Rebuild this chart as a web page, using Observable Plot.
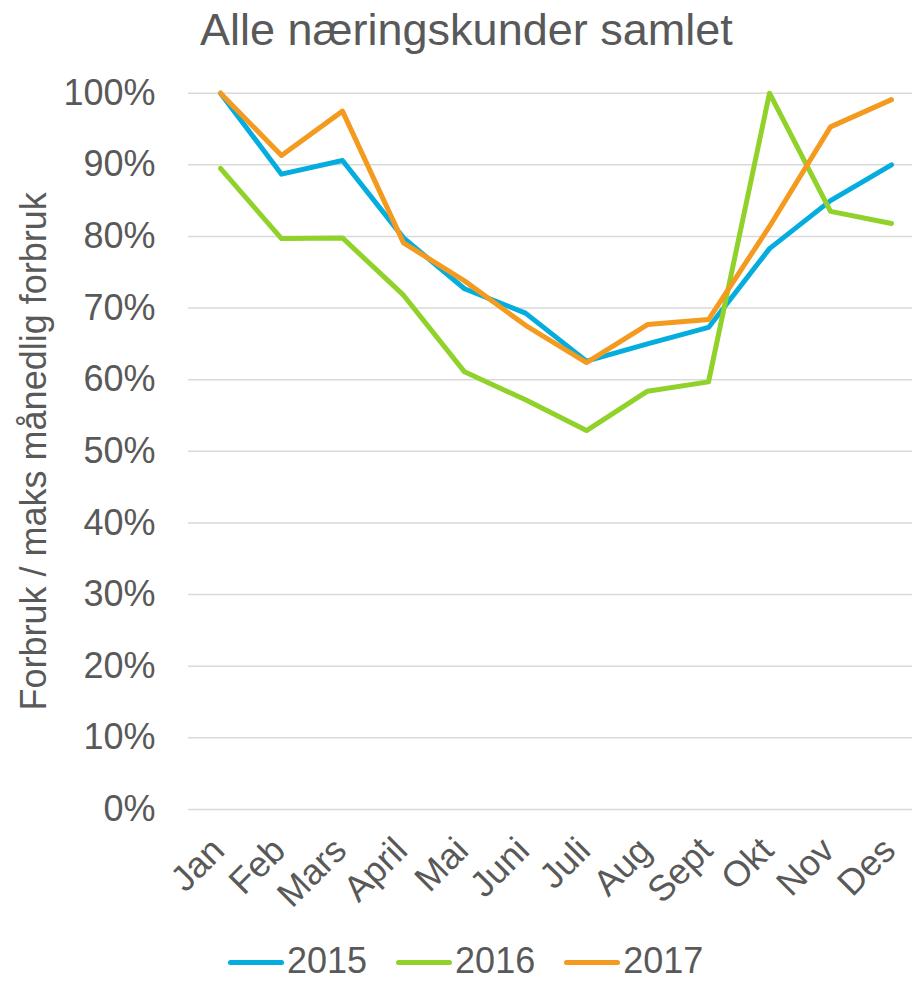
<!DOCTYPE html>
<html>
<head>
<meta charset="utf-8">
<script src="https://cdn.jsdelivr.net/npm/d3@7"></script>
<script src="https://cdn.jsdelivr.net/npm/@observablehq/plot@0.6"></script>
<style>
  html, body { margin: 0; padding: 0; overflow: hidden; background: #fff; }
  body { width: 912px; height: 981px; font-family: "Liberation Sans", Arial, sans-serif; color: #595959; }
  #title { height: 70px; box-sizing: border-box; padding-left: 200px; padding-top: 7px; font-size: 45px; line-height: 45px; white-space: nowrap; }
  #chart svg { display: block; }
  #legend { height: 51px; box-sizing: border-box; padding-top: 10px; padding-left: 228px; display: flex; align-items: center; font-size: 36px; line-height: normal; white-space: nowrap; }
  .item { display: flex; align-items: center; margin-right: 29px; }
  .swatch { width: 56px; height: 5px; border-radius: 3px; margin-right: 3px; margin-top: 4px; }
</style>
</head>
<body>
<div id="title">Alle næringskunder samlet</div>
<div id="chart"></div>
<div id="legend"></div>
<script>
const months = ["Jan", "Feb", "Mars", "April", "Mai", "Juni", "Juli", "Aug", "Sept", "Okt", "Nov", "Des"];
const years = ["2015", "2016", "2017"];
const colors = ["#05ADDF", "#90D12A", "#F39A1F"];
const v2015 = [1.000, 0.887, 0.906, 0.798, 0.727, 0.693, 0.626, 0.650, 0.673, 0.783, 0.850, 0.900];
const v2016 = [0.895, 0.797, 0.798, 0.718, 0.611, 0.572, 0.529, 0.584, 0.597, 1.000, 0.835, 0.818];
const v2017 = [1.000, 0.913, 0.975, 0.791, 0.738, 0.676, 0.624, 0.677, 0.684, 0.814, 0.953, 0.991];
const yTicks = [0, 0.1, 0.2, 0.3, 0.4, 0.5, 0.6, 0.7, 0.8, 0.9, 1.0];
const yLabel = "Forbruk / maks månedlig forbruk";

const series = [v2015, v2016, v2017];
const data = [];
years.forEach((yr, i) => months.forEach((m, j) => data.push({year: yr, month: m, value: series[i][j]})));

const chart = Plot.plot({
  width: 912,
  height: 860,
  marginLeft: 188,
  marginRight: 0,
  marginTop: 22.7,
  marginBottom: 121,
  style: {fontFamily: "Liberation Sans, Arial, sans-serif", color: "#595959", background: "transparent", overflow: "visible"},
  x: {type: "point", domain: months, range: [219, 891.7], padding: 0, axis: null},
  y: {domain: [0, 1], axis: null},
  color: {domain: years, range: colors},
  marks: [
    Plot.ruleY(yTicks, {stroke: "#D9D9D9", strokeWidth: 1.5}),
    Plot.axisY({ticks: yTicks, tickSize: 0, tickPadding: 33, fontSize: 36, tickFormat: d3.format(".0%"), label: null}),
    Plot.text(months, {x: d => d, frameAnchor: "bottom", rotate: -45, textAnchor: "end", lineAnchor: "bottom", dx: 6, dy: 43, fontSize: 36, fill: "#595959"}),
    Plot.text([yLabel], {frameAnchor: "left", rotate: -90, textAnchor: "middle", lineAnchor: "bottom", dx: -143, fontSize: 36, fill: "#595959"}),
    Plot.line(data, {x: "month", y: "value", z: "year", stroke: "year", strokeWidth: 5, strokeLinejoin: "round", strokeLinecap: "round"})
  ]
});
document.getElementById("chart").appendChild(chart);

const legend = document.getElementById("legend");
years.forEach((yr, i) => {
  const item = document.createElement("div");
  item.className = "item";
  const sw = document.createElement("span");
  sw.className = "swatch";
  sw.style.background = colors[i];
  const t = document.createElement("span");
  t.textContent = yr;
  item.appendChild(sw);
  item.appendChild(t);
  legend.appendChild(item);
});
</script>
</body>
</html>
